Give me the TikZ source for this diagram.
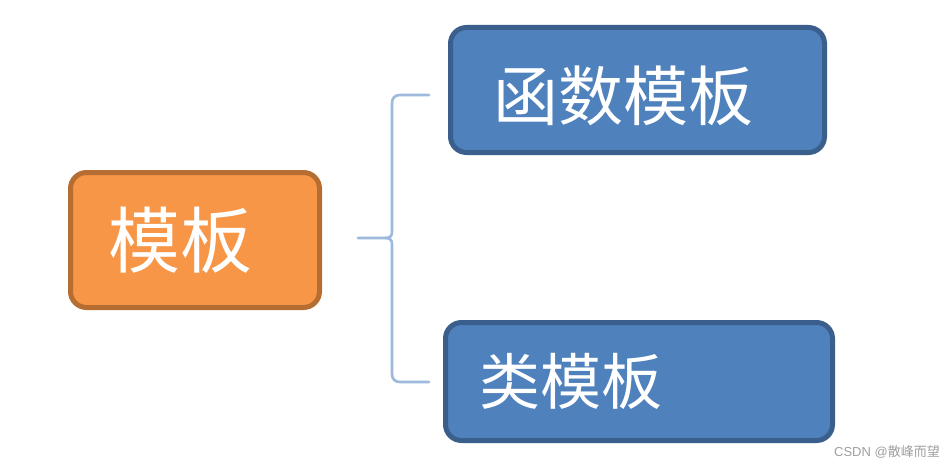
\documentclass[tikz,border=0pt]{standalone}
\usepackage{fontspec}
\newfontfamily\cjk{Noto Sans CJK SC}
\setmainfont{Liberation Sans}
\begin{document}
\begin{tikzpicture}[x=1pt,y=-1pt,
  orangebox/.style={draw=orangeborder,fill=orangefill,line width=5pt,rounded corners=16pt},
  bluebox/.style={draw=blueborder,fill=bluefill,line width=5pt,rounded corners=16pt},
  bracestyle/.style={draw=bracecol,line width=2.6pt,line cap=round},
  label/.style={text=white,font=\cjk,inner sep=0pt,anchor=west}]
\definecolor{orangefill}{HTML}{F79646}
\definecolor{orangeborder}{HTML}{B66D31}
\definecolor{bluefill}{HTML}{4F81BD}
\definecolor{blueborder}{HTML}{3A5F8D}
\definecolor{bracecol}{HTML}{9DB9DE}
\useasboundingbox (0,0) rectangle (944,468);
\fill[white] (0,0) rectangle (944,468);
% boxes
\draw[orangebox] (70.5,172.5) rectangle (319.5,307.5);
\draw[bluebox] (450.5,27.5) rectangle (824.5,152.5);
\draw[bluebox] (445.5,322.5) rectangle (832.5,440.5);
% labels
\node[label,font=\cjk\fontsize{72}{72}\selectfont] (root) at (108,240) {模板};
\node[label,font=\cjk\fontsize{65}{65}\selectfont] (fn) at (493,96) {函数模板};
\node[label,font=\cjk\fontsize{61}{61}\selectfont] (cls) at (479,381) {类模板};
% brace
\coordinate (stem) at (358,238);
\coordinate (topend) at (429,95);
\coordinate (botend) at (429,382);
\draw[bracestyle] (stem) -- (385,238) .. controls (390,238) and (392,236) .. (392,232)
  -- (392,103) .. controls (392,98) and (395,95) .. (400,95) -- (topend);
\draw[bracestyle] (385,238) .. controls (390,238) and (392,240) .. (392,244)
  -- (392,374) .. controls (392,379) and (395,382) .. (400,382) -- (botend);
% watermark
\node[text=gray!75,font=\fontsize{13}{13}\selectfont,anchor=east,inner sep=0pt] (wm) at (940,452) {CSDN @{\cjk 散峰而望}};
\end{tikzpicture}
\end{document}
